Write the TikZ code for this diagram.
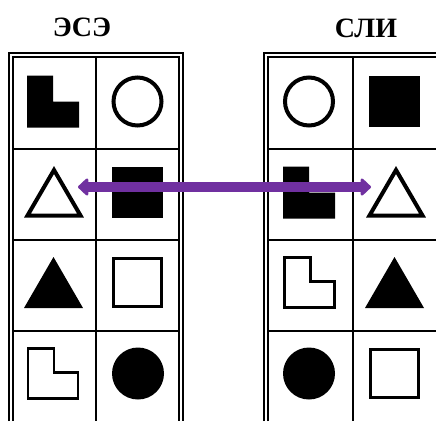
\documentclass[tikz,border=0pt]{standalone}
\usepackage{fontspec}
\setmainfont{Liberation Serif}
\usetikzlibrary{arrows.meta}
\definecolor{arrowpurple}{HTML}{7030A0}
\tikzset{
  gridline/.style={line width=2pt, black},
  title/.style={font=\bfseries\fontsize{28}{30}\selectfont, anchor=base, inner sep=0pt},
  linkarrow/.style={line width=9.5pt, arrowpurple, {Triangle[round,length=11pt,width=20pt]}-{Triangle[round,length=11pt,width=20pt]}},
}
% shapes, centred at (#1,#2)
\newcommand{\fillL}[2]{\fill[black] (#1-26,#2-26) -- (#1,#2-26) -- (#1,#2) -- (#1+26,#2) -- (#1+26,#2+26) -- (#1-26,#2+26) -- cycle;}
\newcommand{\lineL}[2]{\draw[black,line width=2.5pt] (#1-24.8,#2-24.8) -- (#1+1.2,#2-24.8) -- (#1+1.2,#2-1.2) -- (#1+24.8,#2-1.2) -- (#1+24.8,#2+24.8) -- (#1-24.8,#2+24.8) -- cycle;}
\newcommand{\lineCirc}[2]{\draw[black,line width=4pt] (#1,#2) circle[radius=24];}
\newcommand{\fillCirc}[2]{\fill[black] (#1,#2) circle[radius=26];}
\newcommand{\lineTri}[2]{\draw[black,line width=4pt] (#1-26.5,#2+23.5) -- (#1+26.5,#2+23.5) -- (#1,#2-22) -- cycle;}
\newcommand{\fillTri}[2]{\fill[black] (#1-29.5,#2+25.5) -- (#1+29.5,#2+25.5) -- (#1,#2-25.5) -- cycle;}
\newcommand{\fillSq}[2]{\fill[black] (#1-25.5,#2-25.5) rectangle (#1+25.5,#2+25.5);}
\newcommand{\lineSq}[2]{\draw[black,line width=3pt] (#1-24,#2-24) rectangle (#1+24,#2+24);}
\begin{document}
\begin{tikzpicture}[x=1pt,y=-1pt]
\useasboundingbox (0,0) rectangle (436,421);
% titles
\node[title] (t1) at (82,36.5) {ЭСЭ};
\node[title] (t2) at (366,37) {СЛИ};
% left table frame
\draw[gridline] (9.3,421) -- (9.3,52.7) -- (183,52.7) -- (183,421);
\draw[gridline] (13.3,421) -- (13.3,57.3) -- (179,57.3) -- (179,421);
\draw[gridline] (96,57.3) -- (96,421);
\foreach \y in {149,240,331} \draw[gridline] (13.3,\y) -- (179,\y);
% right table frame
\draw[gridline] (264.3,421) -- (264.3,52.7) -- (436,52.7);
\draw[gridline] (268.3,421) -- (268.3,57.3) -- (436,57.3);
\draw[gridline] (353,57.3) -- (353,421);
\foreach \y in {149,240,331} \draw[gridline] (268.3,\y) -- (436,\y);
% left shapes
\fillL{53}{101.5}
\lineCirc{137.5}{101.5}
\lineTri{54}{192}
\fillSq{137.5}{192.5}
\fillTri{53.5}{282.5}
\lineSq{137.5}{282.5}
\lineL{53}{373.5}
\fillCirc{138}{373.5}
% right shapes
\lineCirc{309}{101.5}
\fillSq{394.5}{101}
\fillL{309}{192.5}
\lineTri{396}{192}
\lineL{309.5}{282.5}
\fillTri{394.5}{282.5}
\fillCirc{309}{373.5}
\lineSq{394.5}{373.5}
% arrow
\coordinate (a1) at (78,187);
\coordinate (a2) at (371,187);
\draw[linkarrow] (a1) -- (a2);
\end{tikzpicture}
\end{document}
